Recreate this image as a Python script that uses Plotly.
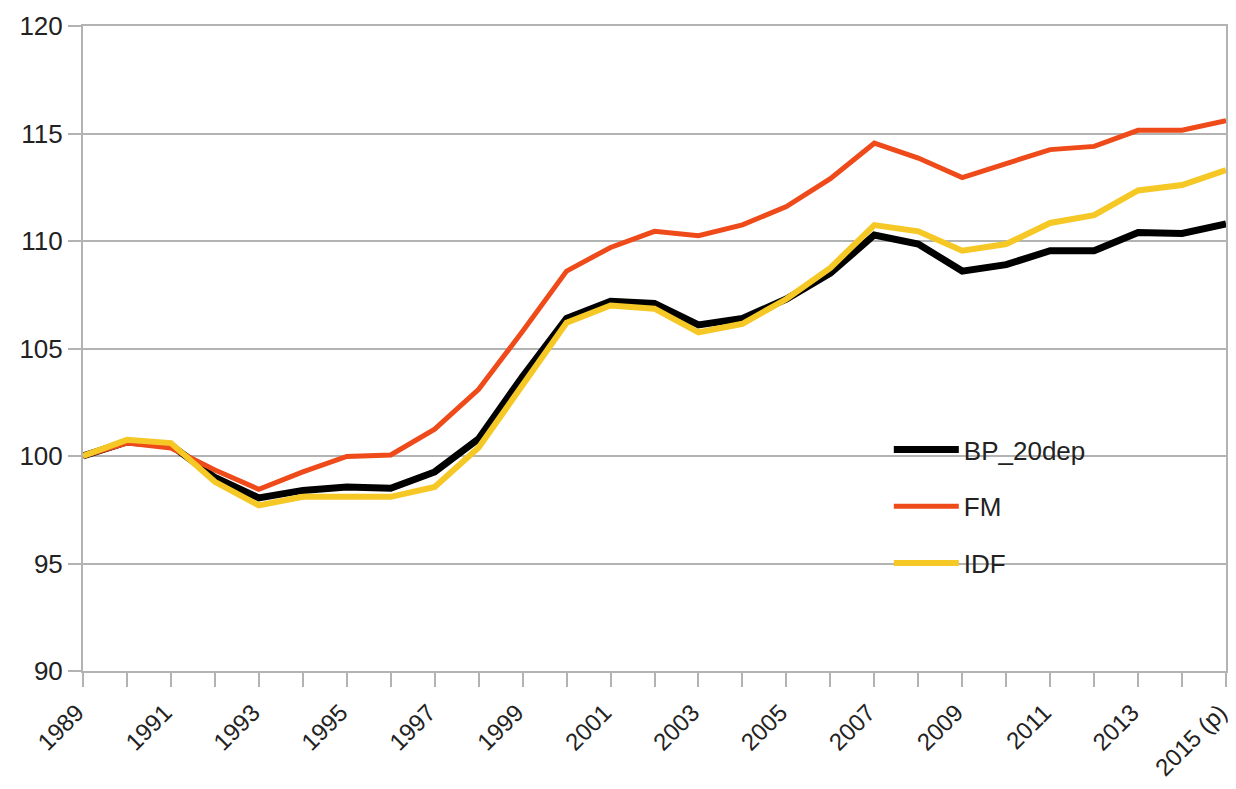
import plotly.graph_objects as go

years = ["1989", "1990", "1991", "1992", "1993", "1994", "1995", "1996", "1997",
         "1998", "1999", "2000", "2001", "2002", "2003", "2004", "2005", "2006",
         "2007", "2008", "2009", "2010", "2011", "2012", "2013", "2014", "2015 (p)"]

bp_20dep = [100.0, 100.65, 100.5, 99.0, 98.05, 98.4, 98.56, 98.5, 99.26,
            100.8, 103.7, 106.4, 107.2, 107.1, 106.1, 106.4, 107.3, 108.5,
            110.28, 109.86, 108.6, 108.9, 109.55, 109.55, 110.4, 110.35, 110.8]

fm = [100.0, 100.6, 100.37, 99.35, 98.45, 99.26, 99.98, 100.05, 101.25,
      103.1, 105.8, 108.6, 109.7, 110.45, 110.25, 110.75, 111.6, 112.9,
      114.55, 113.86, 112.95, 113.6, 114.25, 114.4, 115.15, 115.15, 115.6]

idf = [100.0, 100.75, 100.6, 98.8, 97.7, 98.1, 98.1, 98.1, 98.56,
       100.4, 103.3, 106.2, 107.0, 106.85, 105.75, 106.15, 107.3, 108.75,
       110.74, 110.45, 109.55, 109.86, 110.84, 111.2, 112.35, 112.6, 113.3]

tick_text = [y if i % 2 == 0 else "" for i, y in enumerate(years)]

series = [
    ("BP_20dep", bp_20dep, "#000000", 7),
    ("FM", fm, "#ee4a1a", 5),
    ("IDF", idf, "#f5c825", 6),
]

fig = go.Figure()
for name, vals, color, width in series:
    fig.add_trace(go.Scatter(
        x=years, y=vals, mode="lines", name=name, legendgroup=name,
        line=dict(color=color, width=width),
    ))

font = dict(family="Liberation Sans, Arial, sans-serif", size=26, color="#222222")
xfont = dict(family="Liberation Sans, Arial, sans-serif", size=24, color="#222222")

fig.update_layout(
    width=1228, height=781,
    margin=dict(l=75, r=10, t=18, b=118, autoexpand=False),
    paper_bgcolor="white", plot_bgcolor="white",
    font=font,
    showlegend=True,
    legend=dict(
        x=0.705, y=0.255, xanchor="left", yanchor="middle",
        bgcolor="rgba(0,0,0,0)", font=font,
        traceorder="grouped", tracegroupgap=20, itemwidth=65,
    ),
    xaxis=dict(
        type="category", range=[0, 26], automargin=False,
        tickmode="array", tickvals=years, ticktext=tick_text,
        tickangle=-45, ticks="outside", ticklen=14, tickcolor="#b3b3b3", tickwidth=2,
        ticklabelshift=-6, ticklabelstandoff=2,
        showgrid=False, showline=True, linecolor="#b3b3b3", linewidth=2, mirror=True,
        tickfont=xfont, zeroline=False,
    ),
    yaxis=dict(
        range=[90, 120], dtick=5, tick0=90, automargin=False,
        ticks="outside", ticklen=13, tickcolor="#b3b3b3", tickwidth=2,
        showgrid=True, gridcolor="#b3b3b3", gridwidth=2,
        showline=True, linecolor="#b3b3b3", linewidth=2, mirror=True,
        tickfont=font, zeroline=False,
    ),
)

fig.write_html("out.html")
